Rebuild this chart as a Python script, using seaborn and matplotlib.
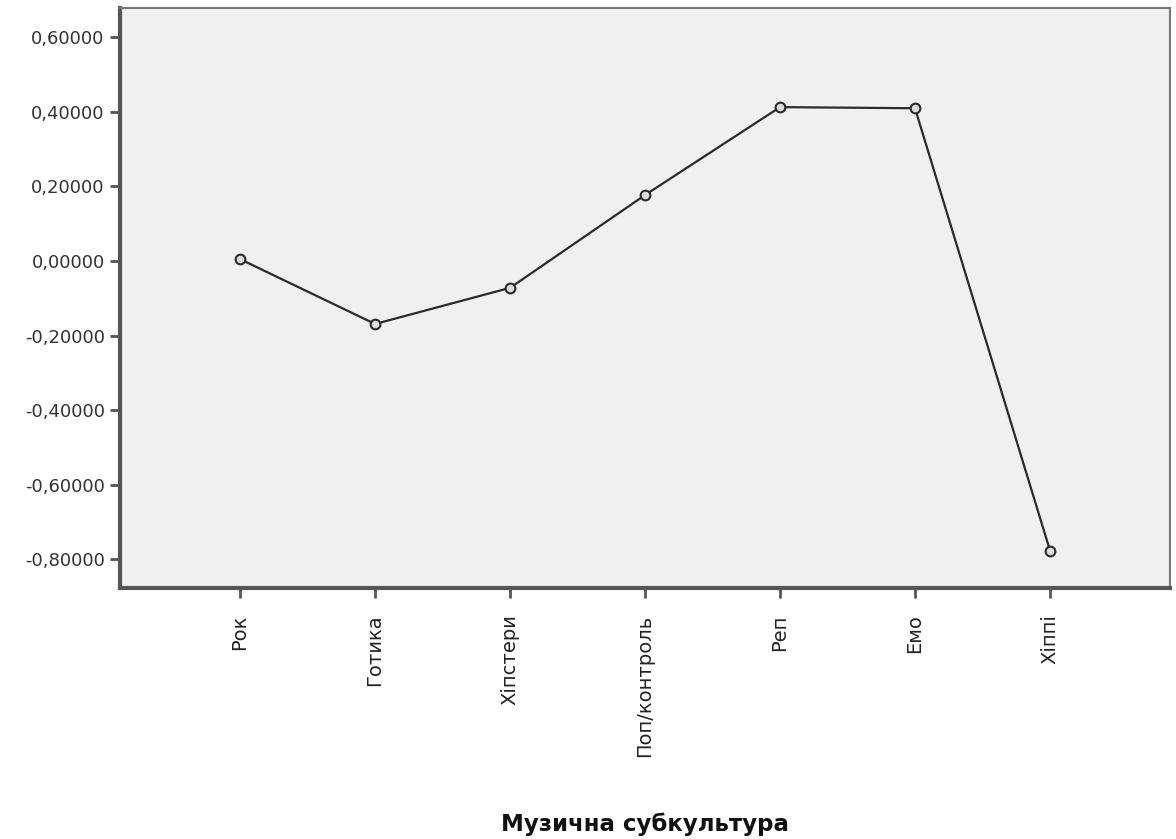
import matplotlib
matplotlib.use("Agg")
import matplotlib.pyplot as plt
import pandas as pd
import seaborn as sns

# values (SPSS means plot)
subcultures = ["Рок", "Готика", "Хіпстери", "Поп/контроль", "Реп", "Емо", "Хіппі"]
means = [0.005, -0.169, -0.072, 0.177, 0.413, 0.410, -0.777]
yticks = [-0.8, -0.6, -0.4, -0.2, 0.0, 0.2, 0.4, 0.6]

df = pd.DataFrame({"group": subcultures, "mean": means})

sns.set_style("white")
plt.rcParams["font.family"] = ["DejaVu Sans"]

fig = plt.figure(figsize=(11.76, 8.39), dpi=100)
ax = fig.add_axes([0.102, 0.299, 0.893, 0.691])
ax.set_facecolor("#f0f0f0")

sns.pointplot(data=df, x="group", y="mean", order=subcultures, color="#2a2a2a",
              markers="o", linestyles="-", linewidth=1.6, markersize=7,
              markerfacecolor="#dcdcdc", markeredgecolor="#2a2a2a",
              markeredgewidth=1.5, errorbar=None, ax=ax)

ax.set_xlim(-0.89, 6.89)
ax.set_ylim(-0.878, 0.678)
ax.set_yticks(yticks)
ax.set_yticklabels([f"{v:.5f}".replace(".", ",") for v in yticks], fontsize=13, color="#333333")
ax.set_xticks(range(len(subcultures)))
ax.set_xticklabels(subcultures, rotation=90, fontsize=14, color="#222222")
ax.tick_params(axis="both", direction="out", length=7, width=2, color="#555555",
               bottom=True, left=True, pad=4)
ax.tick_params(axis="x", pad=12)

ax.set_ylabel("")
ax.set_xlabel("Музична субкультура", fontsize=16.5, fontweight="bold", color="#111111")
ax.xaxis.set_label_coords(0.5, -0.388)

for side in ["left", "bottom"]:
    ax.spines[side].set_color("#555555")
    ax.spines[side].set_linewidth(3)
for side in ["top", "right"]:
    ax.spines[side].set_color("#777777")
    ax.spines[side].set_linewidth(1.5)

fig.savefig("out.png", dpi=100, facecolor="white")
